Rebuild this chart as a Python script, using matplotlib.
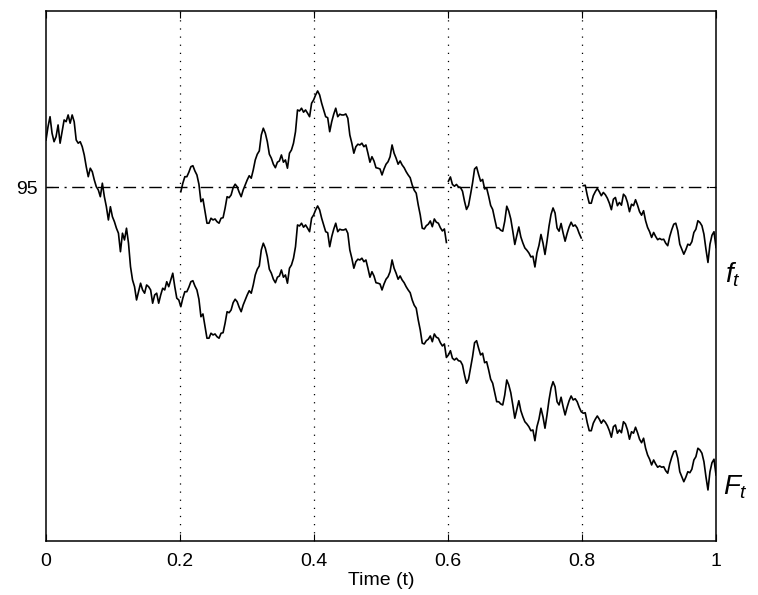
import numpy as np
import matplotlib.pyplot as plt

plt.rcParams['font.family'] = ['Liberation Sans', 'DejaVu Sans']
plt.rcParams['mathtext.fontset'] = 'custom'
plt.rcParams['mathtext.it'] = 'Liberation Sans:italic'
plt.rcParams['mathtext.rm'] = 'Liberation Sans'

# F_t on an even time grid, in five pieces
F_a = [96.9, 97.43, 97.83, 97.17, 96.83, 97.03, 97.5, 96.77, 97.23, 97.7,
       97.63, 97.9, 97.57, 97.9, 97.63, 96.9, 96.77, 96.83, 96.63, 96.3,
       95.83, 95.43, 95.77, 95.63, 95.3, 95.03, 94.9, 94.63, 95.17, 94.63,
       94.23, 93.7, 94.23, 93.83, 93.63, 93.37, 93.17, 92.43, 93.17, 92.9,
       93.37, 92.77, 91.83, 91.3, 91.03, 90.5, 90.83, 91.17, 90.9, 90.77,
       91.1, 91.03, 90.9, 90.37, 90.7, 90.77, 90.37, 90.7, 90.97, 90.9,
       91.23, 91.03, 91.3, 91.57, 91.03, 90.57, 90.5, 90.23]
F_b = [90.57, 90.83, 90.83, 91.01, 91.23, 91.27, 91.06, 90.9, 90.53, 89.83,
       89.94, 89.46, 88.97, 88.97, 89.17, 89.1, 89.14, 89.03, 88.97, 89.17,
       89.19, 89.57, 90.03, 89.99, 90.1, 90.39, 90.53, 90.43, 90.21, 90.03,
       90.3, 90.5, 90.7, 90.87, 90.77, 91.1, 91.5, 91.73, 91.86, 92.5,
       92.77, 92.57, 92.23, 91.73, 91.57, 91.33, 91.19, 91.41, 91.46, 91.7,
       91.41, 91.5, 91.17, 91.77, 91.9, 92.17, 92.63, 93.5, 93.46, 93.57,
       93.41, 93.5, 93.37, 93.23, 93.77, 93.9, 94.1]
F_c = [94.26, 94.1, 93.77, 93.5, 93.23, 93.19, 92.63, 93.03, 93.33, 93.57,
       93.23, 93.33, 93.3, 93.3, 93.34, 93.17, 92.5, 92.17, 91.77, 92.03,
       92.13, 92.1, 92.17, 92.03, 92.1, 91.77, 91.41, 91.63, 91.46, 91.19,
       91.17, 91.14, 90.9, 91.14, 91.33, 91.43, 91.63, 92.1, 91.77, 91.57,
       91.33, 91.46, 91.3, 91.19, 91.03, 90.9, 90.79, 90.5, 90.29, 90.17,
       89.7, 89.3, 88.77, 88.74, 88.87, 88.93, 89.06, 88.83, 89.14, 89.01,
       88.97, 88.79, 88.66, 88.74, 88.2]
F_d = [88.3, 88.47, 88.17, 88.1, 88.17, 88.07, 88.05, 87.9, 87.5, 87.17,
       87.33, 87.77, 88.23, 88.79, 88.87, 88.57, 88.3, 88.37, 87.99, 88.03,
       87.7, 87.33, 87.17, 86.79, 86.43, 86.43, 86.34, 86.3, 86.7, 87.3,
       87.1, 86.79, 86.3, 85.77, 86.13, 86.47, 86.07, 85.83, 85.63, 85.54,
       85.43, 85.27, 85.3, 84.87, 85.43, 85.73, 86.17, 85.83, 85.37, 85.9,
       86.5, 86.97, 87.23, 87.03, 86.43, 86.3, 86.61, 86.23, 85.9, 86.21,
       86.47, 86.66, 86.5, 86.55, 86.43, 86.21, 86.03]
F_e = [85.97, 85.99, 85.59, 85.27, 85.27, 85.57, 85.73, 85.86, 85.73, 85.57,
       85.7, 85.61, 85.47, 85.27, 85.01, 85.43, 85.5, 85.17, 85.3, 85.19,
       85.63, 85.54, 85.3, 84.93, 85.23, 85.17, 85.41, 85.19, 84.93, 84.79,
       84.97, 84.57, 84.3, 84.13, 83.9, 84.1, 83.94, 83.81, 83.86, 83.81,
       83.83, 83.67, 83.57, 83.94, 84.21, 84.43, 84.47, 84.17, 83.63, 83.43,
       83.23, 83.41, 83.63, 83.59, 83.73, 84.1, 84.23, 84.57, 84.5, 84.37,
       84.03, 83.43, 82.9, 83.63, 83.99, 84.13, 83.5]

F_vals = np.array(F_a + F_b + F_c + F_d + F_e)
t = np.linspace(0, 1, len(F_vals))

# f_t is reset up to the barrier at these dates; gap f - F after each reset
barrier = 95
reset_times = [0.2, 0.6, 0.8]
reset_gaps = [4.6, 6.95, 9.1]
grid_times = [0.2, 0.4, 0.6, 0.8]
tick_labels = ['0', '0.2', '0.4', '0.6', '0.8', '1']

fig = plt.figure(figsize=(7.58, 5.95), dpi=100)
ax = fig.add_axes([0.0607, 0.0908, 0.8839, 0.8908])

for g in grid_times:
    ax.axvline(g, color='k', lw=0.9, linestyle=(0, (1, 5.5)), zorder=1)
ax.axhline(barrier, color='k', lw=1.0, dashes=(9, 4, 1.5, 4), zorder=1)

ax.plot(t, F_vals, color='k', lw=1.2, zorder=3)

ends = reset_times[1:] + [1.01]
for start, stop, gap in zip(reset_times, ends, reset_gaps):
    m = (t >= start) & (t < stop)
    ax.plot(t[m], F_vals[m] + gap, color='k', lw=1.2, zorder=3)

ax.set_xlim(0, 1)
ax.set_ylim(80.86, 102.06)
ax.set_xticks([0, 0.2, 0.4, 0.6, 0.8, 1])
ax.set_xticklabels(tick_labels)
ax.set_yticks([barrier])
ax.set_yticklabels(['95'])
ax.tick_params(direction='in', top=True, right=True, length=5,
               labelsize=14, pad=6)
ax.tick_params(axis='x', pad=9)
ax.set_xlabel('Time (t)', fontsize=14, labelpad=1)
for s in ax.spines.values():
    s.set_linewidth(1.1)

ax.text(1.013, 91.5, r'$f_t$', transform=ax.get_yaxis_transform(),
        fontsize=20, va='center', ha='left')
ax.text(1.010, 83.0, r'$F_t$', transform=ax.get_yaxis_transform(),
        fontsize=20, va='center', ha='left')

fig.savefig('out.png', dpi=100)
